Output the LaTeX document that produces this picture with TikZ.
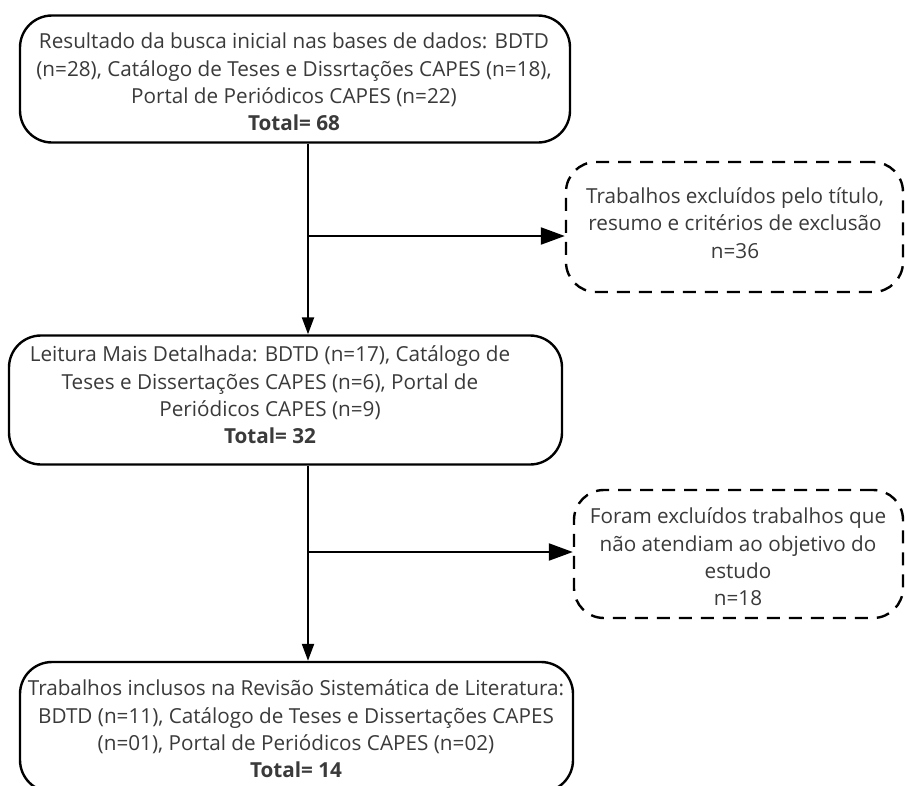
\documentclass[tikz,border=0pt]{standalone}
\usepackage{fontspec}
\setmainfont{Open Sans}
\usetikzlibrary{arrows.meta}
\definecolor{txt}{HTML}{3A3A3A}
\tikzset{
  solidbox/.style={draw=black, line width=2.4pt, rounded corners=32pt, inner sep=0pt, fill=none},
  dashbox/.style={draw=black, line width=2.4pt, rounded corners=30pt, inner sep=0pt, dash pattern=on 13pt off 9pt},
  boxtext/.style={text=txt, align=center, inner sep=0pt, font=\fontsize{20.7}{27.3}\selectfont},
  conn/.style={draw=black, line width=2.2pt},
  bigtip/.style={-{Triangle[length=24pt,width=17pt]}},
  smalltip/.style={-{Triangle[length=17pt,width=12pt]}}
}
\begin{document}
\begin{tikzpicture}[x=1pt,y=-1pt]
\useasboundingbox (0,0) rectangle (905,785);
\fill[white] (0,0) rectangle (905,785);
% boxes
\node[solidbox, minimum width=550pt, minimum height=127pt] (b1) at (295,79) {};
\node[solidbox, minimum width=553pt, minimum height=129pt] (b2) at (285.5,400) {};
\node[solidbox, minimum width=553pt, minimum height=130pt] (b3) at (296.5,727) {};
\node[dashbox, minimum width=337pt, minimum height=130pt] (d1) at (734.5,227) {};
\node[dashbox, minimum width=329pt, minimum height=128pt] (d2) at (738.5,554) {};
% texts
\node[boxtext] (t1) at (294,82) {Resultado da busca inicial nas bases de dados: BDTD\\(n=28), Catálogo de Teses e Dissrtações CAPES (n=18),\\Portal de Periódicos CAPES (n=22)\\\textbf{Total= 68}};
\node[boxtext] (t2) at (270,395) {Leitura Mais Detalhada: BDTD (n=17), Catálogo de\\Teses e Dissertações CAPES (n=6), Portal de\\Periódicos CAPES (n=9)\\\textbf{Total= 32}};
\node[boxtext] (t3) at (735,223) {Trabalhos excluídos pelo título,\\resumo e critérios de exclusão\\n=36};
\node[boxtext] (t4) at (738,557) {Foram excluídos trabalhos que\\não atendiam ao objetivo do\\estudo\\n=18};
\node[boxtext] (t5) at (296,729) {Trabalhos inclusos na Revisão Sistemática de Literatura:\\BDTD (n=11), Catálogo de Teses e Dissertações CAPES\\(n=01), Portal de Periódicos CAPES (n=02)\\\textbf{Total= 14}};
% connectors
\coordinate (j1) at (308,236);
\coordinate (j2) at (308,552);
\draw[conn, smalltip] (j1 |- b1.south) -- (j1 |- b2.north);
\draw[conn, bigtip] (j1) -- (j1 -| d1.west);
\draw[conn, smalltip] (j2 |- b2.south) -- (j2 |- b3.north);
\draw[conn, bigtip] (j2) -- (j2 -| d2.west);
\end{tikzpicture}
\end{document}
